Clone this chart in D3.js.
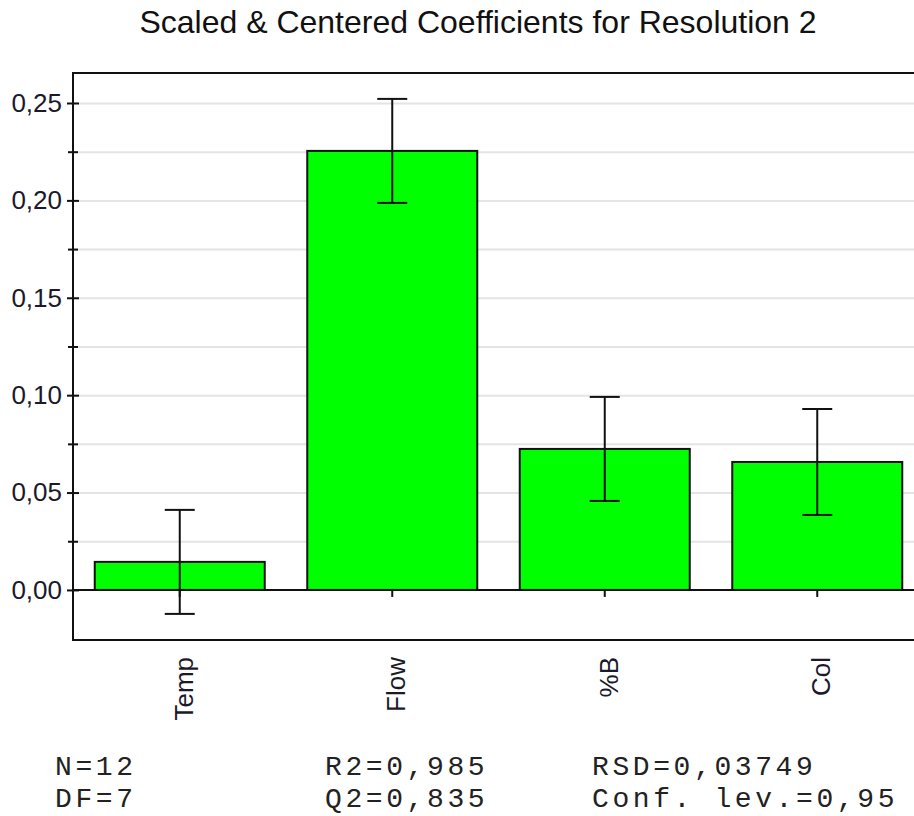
<!DOCTYPE html>
<html>
<head>
<meta charset="utf-8">
<script src="https://cdn.jsdelivr.net/npm/d3@7"></script>
<style>
  html, body { margin: 0; padding: 0; background: #fff; }
  svg { display: block; }
</style>
</head>
<body>
<svg id="chart" width="914" height="816"></svg>
<script>
// ---- data ----
const categories = ["Temp", "Flow", "%B", "Col"];
const coefficients = [0.0144, 0.2254, 0.0724, 0.0657];
const confHalfWidth = [0.0267, 0.0267, 0.0267, 0.0272];
const majorTicks = [0.00, 0.05, 0.10, 0.15, 0.20, 0.25];
const majorTickLabels = ["0,00", "0,05", "0,10", "0,15", "0,20", "0,25"];
const minorTicks = [0.025, 0.075, 0.125, 0.175, 0.225];
const gridValues = [0.025, 0.05, 0.075, 0.10, 0.125, 0.15, 0.175, 0.20, 0.225, 0.25];
const titleText = "Scaled & Centered Coefficients for Resolution 2";
const statsCol1 = ["N=12", "DF=7"];
const statsCol2 = ["R2=0,985", "Q2=0,835"];
const statsCol3 = ["RSD=0,03749", "Conf. lev.=0,95"];

// ---- layout ----
const svg = d3.select("#chart");
const plotLeft = 73, plotTop = 73, plotBottom = 640, plotRight = 914;
const sans = "'Liberation Sans', Arial, sans-serif";
const mono = "'Liberation Mono', 'Courier New', monospace";

const y = d3.scaleLinear().domain([-0.0257, 0.2654]).range([plotBottom, plotTop]);
const x = d3.scaleBand().domain(categories).range([73.5, 923.5])
  .paddingInner(0.2).paddingOuter(0.1);

// title
svg.append("text")
  .attr("x", 478).attr("y", 33)
  .attr("text-anchor", "middle")
  .style("font-family", sans).style("font-size", "32px").style("fill", "#111")
  .text(titleText);

// gridlines
const grid = svg.append("g").attr("transform", `translate(${plotLeft},0)`)
  .call(d3.axisRight(y).tickValues(gridValues).tickSize(plotRight - plotLeft).tickFormat(""));
grid.select(".domain").remove();
grid.selectAll("line").attr("stroke", "#e4e4e4").attr("stroke-width", 2);

// zero line
svg.append("line")
  .attr("x1", plotLeft).attr("x2", plotRight)
  .attr("y1", y(0)).attr("y2", y(0))
  .attr("stroke", "#111").attr("stroke-width", 2);

// x ticks (below zero line)
const cx = d => x(d) + x.bandwidth() / 2;
svg.append("g").selectAll("line").data(categories).join("line")
  .attr("x1", cx).attr("x2", cx)
  .attr("y1", y(0)).attr("y2", y(0) + 7)
  .attr("stroke", "#111").attr("stroke-width", 2);

// bars
svg.append("g").selectAll("rect").data(categories).join("rect")
  .attr("x", d => x(d))
  .attr("width", x.bandwidth())
  .attr("y", (d, i) => y(Math.max(0, coefficients[i])))
  .attr("height", (d, i) => Math.abs(y(coefficients[i]) - y(0)))
  .attr("fill", "#00ff00")
  .attr("stroke", "#111").attr("stroke-width", 2);

// error bars
const eb = svg.append("g").selectAll("g").data(categories).join("g")
  .attr("stroke", "#111").attr("stroke-width", 2);
eb.append("line")
  .attr("x1", cx).attr("x2", cx)
  .attr("y1", (d, i) => y(coefficients[i] + confHalfWidth[i]))
  .attr("y2", (d, i) => y(coefficients[i] - confHalfWidth[i]));
eb.append("line")
  .attr("x1", d => cx(d) - 15).attr("x2", d => cx(d) + 15)
  .attr("y1", (d, i) => y(coefficients[i] + confHalfWidth[i]))
  .attr("y2", (d, i) => y(coefficients[i] + confHalfWidth[i]));
eb.append("line")
  .attr("x1", d => cx(d) - 15).attr("x2", d => cx(d) + 15)
  .attr("y1", (d, i) => y(coefficients[i] - confHalfWidth[i]))
  .attr("y2", (d, i) => y(coefficients[i] - confHalfWidth[i]));

// frame: left, top, bottom
svg.append("path")
  .attr("d", `M${plotRight},${plotTop}H${plotLeft}V${plotBottom}H${plotRight}`)
  .attr("fill", "none").attr("stroke", "#111").attr("stroke-width", 2);

// y axis major ticks with labels
const yAxis = svg.append("g").attr("transform", `translate(${plotLeft},0)`)
  .call(d3.axisLeft(y).tickValues(majorTicks).tickSize(6).tickPadding(5)
    .tickFormat((d, i) => majorTickLabels[i]));
yAxis.select(".domain").remove();
yAxis.selectAll(".tick line").attr("x1", 6).attr("x2", -6)
  .attr("stroke", "#111").attr("stroke-width", 2);
yAxis.selectAll(".tick text")
  .style("font-family", sans).style("font-size", "26px").style("fill", "#1a1a2a")
  .attr("x", -11);

// y axis minor ticks
const yMinor = svg.append("g").attr("transform", `translate(${plotLeft},0)`)
  .call(d3.axisLeft(y).tickValues(minorTicks).tickSize(5).tickFormat(""));
yMinor.select(".domain").remove();
yMinor.selectAll(".tick line").attr("x1", 5).attr("x2", -5)
  .attr("stroke", "#111").attr("stroke-width", 2);

// x category labels (rotated)
svg.append("g").selectAll("text").data(categories).join("text")
  .attr("transform", d => `translate(${cx(d) + 13},657) rotate(-90)`)
  .attr("text-anchor", "end")
  .style("font-family", sans).style("font-size", "26px").style("fill", "#1a1a2a")
  .text(d => d);

// statistics text
const stats = [[statsCol1, 55], [statsCol2, 325], [statsCol3, 592]];
stats.forEach(([lines, xx]) => {
  lines.forEach((t, i) => {
    svg.append("text")
      .attr("x", xx).attr("y", 775 + i * 32)
      .style("font-family", mono).style("font-size", "28px")
      .style("letter-spacing", "3.6px").style("fill", "#222")
      .text(t);
  });
});
</script>
</body>
</html>
